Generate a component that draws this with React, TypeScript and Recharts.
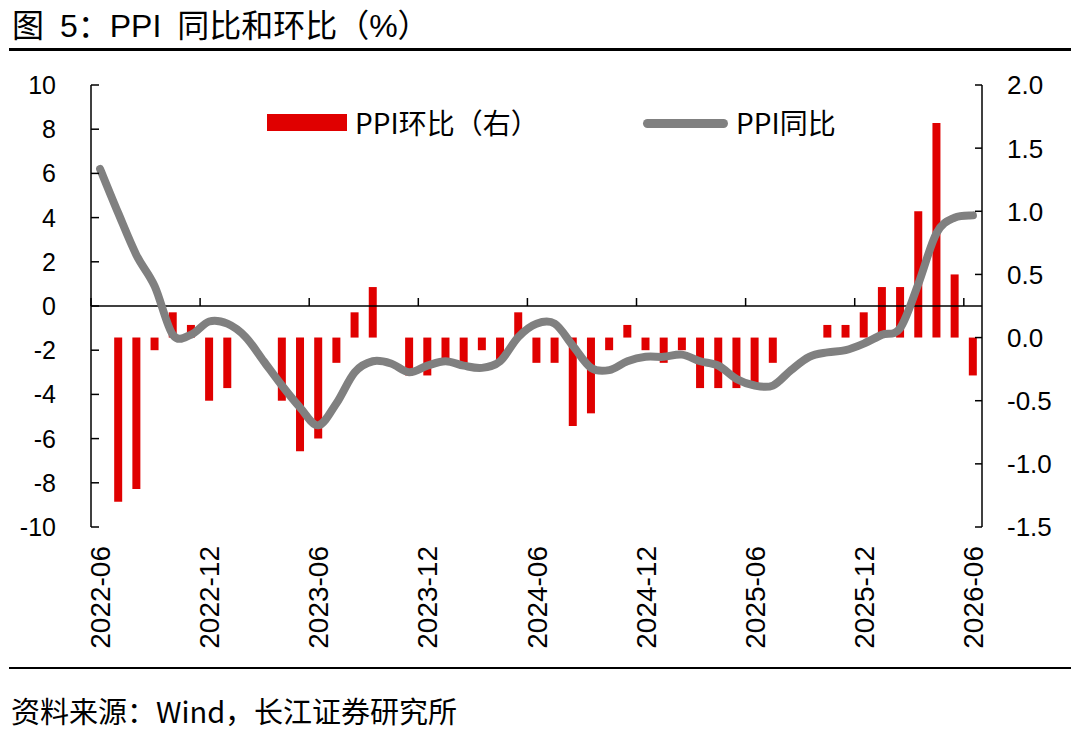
import { ComposedChart, Bar, Line, XAxis, YAxis, ReferenceLine, Legend } from 'recharts';

const months = [
  '2022-06', '2022-07', '2022-08', '2022-09', '2022-10', '2022-11', '2022-12',
  '2023-01', '2023-02', '2023-03', '2023-04', '2023-05', '2023-06',
  '2023-07', '2023-08', '2023-09', '2023-10', '2023-11', '2023-12',
  '2024-01', '2024-02', '2024-03', '2024-04', '2024-05', '2024-06',
  '2024-07', '2024-08', '2024-09', '2024-10', '2024-11', '2024-12',
  '2025-01', '2025-02', '2025-03', '2025-04', '2025-05', '2025-06',
  '2025-07', '2025-08', '2025-09', '2025-10', '2025-11', '2025-12',
  '2026-01', '2026-02', '2026-03', '2026-04', '2026-05', '2026-06',
];

// PPI同比 (left axis)
const ppiYoy = [
  6.2, 4.2, 2.3, 0.9, -1.3, -1.3, -0.7,
  -0.8, -1.4, -2.5, -3.6, -4.6, -5.4, -4.4, -3.0, -2.5, -2.6, -3.0, -2.7,
  -2.5, -2.7, -2.8, -2.5, -1.4, -0.8, -0.8, -1.8, -2.8, -2.9, -2.5, -2.3,
  -2.3, -2.2, -2.5, -2.7, -3.3, -3.6, -3.6, -2.9, -2.3, -2.1, -2.0, -1.7,
  -1.3, -1.0, 1.0, 3.3, 4.0, 4.1,
];

// PPI环比 (right axis)
const ppiMom = [
  0, -1.3, -1.2, -0.1, 0.2, 0.1, -0.5,
  -0.4, 0, 0, -0.5, -0.9, -0.8, -0.2, 0.2, 0.4, 0, -0.3, -0.3,
  -0.2, -0.2, -0.1, -0.2, 0.2, -0.2, -0.2, -0.7, -0.6, -0.1, 0.1, -0.1,
  -0.2, -0.1, -0.4, -0.4, -0.4, -0.4, -0.2, 0, 0, 0.1, 0.1, 0.2,
  0.4, 0.4, 1.0, 1.7, 0.5, -0.3,
];

const leftTicks = [-10, -8, -6, -4, -2, 0, 2, 4, 6, 8, 10];
const rightTicks = [-1.5, -1.0, -0.5, 0, 0.5, 1.0, 1.5, 2.0];

const W = 1080;
const H = 660;
const PLOT_LEFT = 91;
const PLOT_RIGHT = 982;
const PLOT_TOP = 85;
const PLOT_BOTTOM = 527;
const BAND = (PLOT_RIGHT - PLOT_LEFT) / months.length;
const ZERO_Y = PLOT_TOP + (PLOT_BOTTOM - PLOT_TOP) / 2;

const RED = '#e00000';
const GRAY = '#808080';
const NUM_FONT = '"Liberation Sans", Arial, sans-serif';
const CJK_FONT = '"Noto Sans CJK SC", "Noto Sans", sans-serif';
const TITLE_FONT = '"Liberation Sans", Arial, "Noto Sans CJK SC", sans-serif';

const data = months.map((m, i) => ({ month: m, yoy: ppiYoy[i], mom: ppiMom[i] }));

// Excel-like smoothed line (Catmull-Rom through the points)
const smoothCurve = (context: any) => {
  let pts: number[][] = [];
  return {
    areaStart() {},
    areaEnd() {},
    lineStart() { pts = []; },
    point(x: number, y: number) { pts.push([x, y]); },
    lineEnd() {
      if (!pts.length) return;
      context.moveTo(pts[0][0], pts[0][1]);
      for (let i = 0; i < pts.length - 1; i++) {
        const p0 = pts[i - 1] || pts[i];
        const p1 = pts[i];
        const p2 = pts[i + 1];
        const p3 = pts[i + 2] || p2;
        context.bezierCurveTo(
          p1[0] + (p2[0] - p0[0]) / 6, p1[1] + (p2[1] - p0[1]) / 6,
          p2[0] - (p3[0] - p1[0]) / 6, p2[1] - (p3[1] - p1[1]) / 6,
          p2[0], p2[1],
        );
      }
    },
  };
};

const LeftTick = ({ y, payload }: any) => (
  <g>
    <line x1={PLOT_LEFT} x2={PLOT_LEFT + 8} y1={y} y2={y} stroke="#000" strokeWidth={1.5} />
    <text x={56} y={y} dy="0.36em" textAnchor="end" fontSize={25} fill="#000" fontFamily={NUM_FONT}>
      {payload.value}
    </text>
  </g>
);

const RightTick = ({ y, payload }: any) => (
  <g>
    <line x1={PLOT_RIGHT - 7} x2={PLOT_RIGHT} y1={y} y2={y} stroke="#000" strokeWidth={1.5} />
    <text x={1007} y={y} dy="0.36em" textAnchor="start" fontSize={26} fill="#000" fontFamily={NUM_FONT}>
      {Number(payload.value).toFixed(1)}
    </text>
  </g>
);

const MonthTick = ({ x, payload }: any) => {
  const bx = x - BAND / 2;
  return (
    <g>
      <line x1={bx} x2={bx} y1={ZERO_Y - 8} y2={ZERO_Y} stroke="#000" strokeWidth={1.5} />
      <text
        transform={`translate(${x},546) rotate(-90)`}
        dy="0.36em"
        textAnchor="end"
        fontSize={28}
        fill="#000"
        fontFamily={NUM_FONT}
      >
        {payload.value}
      </text>
    </g>
  );
};

const legendText = { position: 'absolute', top: 108, fontSize: 28, lineHeight: '28px', fontFamily: CJK_FONT, color: '#000', whiteSpace: 'nowrap' } as const;

const LegendBox = () => (
  <div style={{ position: 'relative', width: W, height: 0 }}>
    <div style={{ position: 'absolute', left: 267, top: 114, width: 80, height: 17, background: RED }} />
    <div style={{ ...legendText, left: 355 }}>PPI环比（右）</div>
    <div style={{ position: 'absolute', left: 643, top: 119, width: 85, height: 9, borderRadius: 4.5, background: GRAY }} />
    <div style={{ ...legendText, left: 736 }}>PPI同比</div>
  </div>
);

export default function App() {
  return (
    <div style={{ position: 'absolute', left: 0, top: 0, width: W, height: 735, background: '#fff' }}>
      <ComposedChart width={W} height={H} data={data} margin={{ top: PLOT_TOP, right: 0, bottom: 0, left: 0 }}>
        <XAxis
          dataKey="month"
          interval={5}
          height={H - PLOT_BOTTOM}
          tick={<MonthTick />}
          tickLine={false}
          axisLine={false}
        />
        <YAxis
          yAxisId="left"
          orientation="left"
          width={PLOT_LEFT}
          domain={[-10, 10]}
          ticks={leftTicks}
          interval={0}
          tick={<LeftTick />}
          tickLine={false}
          axisLine={{ stroke: '#000', strokeWidth: 1.5 }}
        />
        <YAxis
          yAxisId="right"
          orientation="right"
          width={W - PLOT_RIGHT}
          domain={[-1.5, 2]}
          ticks={rightTicks}
          interval={0}
          tick={<RightTick />}
          tickLine={false}
          axisLine={{ stroke: '#000', strokeWidth: 1.5 }}
        />
        <Legend content={<LegendBox />} wrapperStyle={{ position: 'absolute', left: 0, top: 0, width: W, height: 0 }} />
        <Bar yAxisId="right" dataKey="mom" fill={RED} barSize={8} isAnimationActive={false} />
        <ReferenceLine yAxisId="left" y={0} stroke="#000" strokeWidth={1.5} />
        <Line
          yAxisId="left"
          dataKey="yoy"
          type={smoothCurve as any}
          stroke={GRAY}
          strokeWidth={8}
          strokeLinecap="round"
          dot={false}
          activeDot={false}
          isAnimationActive={false}
        />
      </ComposedChart>

      <div style={{ position: 'absolute', left: 12, top: 10, fontSize: 32, lineHeight: '32px', wordSpacing: 7, fontFamily: TITLE_FONT, color: '#000', whiteSpace: 'nowrap' }}>
        图 5：PPI 同比和环比（%）
      </div>
      <div style={{ position: 'absolute', left: 9, top: 48, width: 1062, height: 2.5, background: '#000' }} />
      <div style={{ position: 'absolute', left: 9, top: 667, width: 1062, height: 2, background: '#000' }} />
      <div style={{ position: 'absolute', left: 11, top: 696, fontSize: 29, lineHeight: '29px', fontFamily: CJK_FONT, color: '#000', whiteSpace: 'nowrap' }}>
        资料来源：Wind，长江证券研究所
      </div>
    </div>
  );
}
